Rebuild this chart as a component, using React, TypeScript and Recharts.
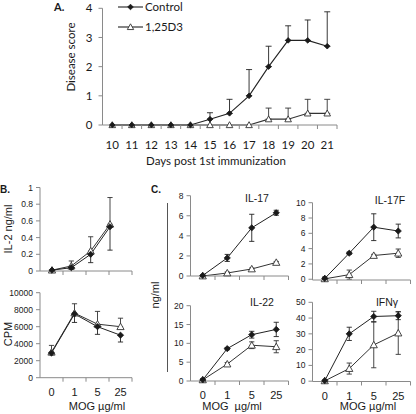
import { LineChart, Line, XAxis, YAxis, ErrorBar, Legend } from 'recharts'

const W = 416
const H = 414
const AXIS = '#8a8a8a'
const INK = '#1a1a1a'
const SANS = 'Arial, "Liberation Sans", sans-serif'
const CAL = 'Lato, "Open Sans", sans-serif'

// panel A: disease score
const days = [10, 11, 12, 13, 14, 15, 16, 17, 18, 19, 20, 21]
const ctrlScore = [0, 0, 0, 0, 0, 0.2, 0.4, 1.0, 2.0, 2.9, 2.9, 2.7]
const ctrlScoreErr = [0, 0, 0, 0, 0, 0.22, 0.48, 0.9, 0.7, 0.5, 0.7, 1.18]
const vdScore = [0, 0, 0, 0, 0, 0, 0, 0, 0.2, 0.2, 0.4, 0.4]
const vdScoreErr = [0, 0, 0, 0, 0, 0, 0, 0, 0.38, 0.38, 0.48, 0.48]
const scoreTicks = [0, 1, 2, 3, 4]

// panels B and C: MOG recall
const mog = ['0', '1', '5', '25']

const il2Ctrl = [0.01, 0.04, 0.2, 0.53]
const il2CtrlErr = [0, 0.02, 0.1, 0.28]
const il2Vd = [0.01, 0.06, 0.24, 0.56]
const il2VdErr = [0, 0.06, 0.17, 0.32]
const il2Ticks = [0, 0.2, 0.4, 0.6, 0.8, 1]

const cpmCtrl = [2900, 7500, 6000, 5000]
const cpmCtrlErr = [200, 1000, 900, 800]
const cpmVd = [3000, 7600, 6300, 6000]
const cpmVdErr = [800, 1100, 1500, 1000]
const cpmTicks = [0, 2000, 4000, 6000, 8000, 10000]

const il17Ctrl = [0.05, 1.8, 4.8, 6.3]
const il17CtrlErr = [0.05, 0.35, 1.35, 0.25]
const il17Vd = [0, 0.3, 0.7, 1.35]
const il17VdErr = [0, 0.1, 0.1, 0.1]
const il17Ticks = [0, 2, 4, 6, 8]

const il17fCtrl = [0.1, 3.4, 6.8, 6.3]
const il17fCtrlErr = [0.2, 0.15, 1.75, 0.9]
const il17fVd = [0.05, 0.6, 3.1, 3.4]
const il17fVdErr = [0.1, 0.6, 0.15, 0.55]
const il17fTicks = [0, 2, 4, 6, 8, 10]

const il22Ctrl = [0.3, 8.6, 12.3, 13.7]
const il22CtrlErr = [0.3, 0.3, 0.9, 1.9]
const il22Vd = [0.3, 4.5, 9.5, 9.1]
const il22VdErr = [0.2, 0.4, 0.9, 1.6]
const il22Ticks = [0, 5, 10, 15, 20]

const ifnCtrl = [0.3, 30, 41, 41.5]
const ifnCtrlErr = [0.5, 4.2, 3.3, 2.5]
const ifnVd = [0.2, 8, 23, 30.5]
const ifnVdErr = [0.3, 3.5, 14.5, 13.5]
const ifnTicks = [0, 10, 20, 30, 40, 50]

const nz = (v: any) => (v ? v : null)

// A: only the upper bar is shown
const scoreRows = days.map((d, i) => ({
  m: d,
  c: ctrlScore[i],
  ce: ctrlScoreErr[i] ? [0, ctrlScoreErr[i]] : null,
  v: vdScore[i],
  ve: vdScoreErr[i] ? [0, vdScoreErr[i]] : null,
}))

// B: control bars go down, 1,25D3 bars go up
const oneSided = (c: number[], ce: number[], v: number[], ve: number[]) =>
  mog.map((m, i) => ({
    m,
    c: c[i],
    ce: ce[i] ? [ce[i], 0] : null,
    v: v[i],
    ve: ve[i] ? [0, ve[i]] : null,
  }))

const twoSided = (c: number[], ce: number[], v: number[], ve: number[]) =>
  mog.map((m, i) => ({ m, c: c[i], ce: nz(ce[i]), v: v[i], ve: nz(ve[i]) }))

function Diamond(p: any) {
  const { cx, cy, index } = p
  if (cx == null || cy == null) return <g key={index} />
  const s = p.size || 3.3
  return (
    <path
      key={index}
      d={`M${cx},${cy - s}L${cx + s},${cy}L${cx},${cy + s}L${cx - s},${cy}Z`}
      fill={INK}
      stroke={INK}
      strokeWidth={0.8}
    />
  )
}

function Tri(p: any) {
  const { cx, cy, index } = p
  if (cx == null || cy == null) return <g key={index} />
  const s = p.size || 3.6
  return (
    <path
      key={index}
      d={`M${cx},${cy - s}L${cx + s},${cy + s * 0.8}L${cx - s},${cy + s * 0.8}Z`}
      fill="#fff"
      stroke="#333"
      strokeWidth={0.9}
    />
  )
}

type PanelProps = {
  rows: any[]
  plot: [number, number, number, number]
  yTicks: number[]
  showX?: boolean
  xPad?: [number, number]
  yFont?: number
  yFamily?: string
  yMargin?: number
  xFont?: number
  xFamily?: string
  xDy?: number
  lineW?: number
  dotSize?: number
  capW?: number
  children?: any
}

function Panel({
  rows,
  plot,
  yTicks,
  showX = true,
  xPad,
  yFont = 8.5,
  yFamily = SANS,
  yMargin = 3,
  xFont = 11,
  xFamily = SANS,
  xDy = 18,
  lineW = 1,
  dotSize = 3.1,
  capW = 2.6,
  children,
}: PanelProps) {
  const [l, t, r, b] = plot
  const yw = 40
  const xh = 30
  const n = rows.length
  const step = (r - l) / n
  const pad = xPad ?? [step / 2, step / 2]
  const XTick = (p: any) => {
    const tx = l + (p.index + 1) * step
    return (
      <g>
        <line x1={tx} x2={tx} y1={b} y2={b + 4} stroke={AXIS} />
        {showX && (
          <text x={p.x} y={b + xDy} textAnchor="middle" fontSize={xFont} fontFamily={xFamily} fill={INK}>
            {p.payload.value}
          </text>
        )}
      </g>
    )
  }
  return (
    <div style={{ position: 'absolute', left: 0, top: 0 }}>
      <LineChart
        width={W}
        height={H}
        data={rows}
        margin={{ top: t, left: l - yw, right: W - r, bottom: H - b - xh }}
      >
        <XAxis
          dataKey="m"
          height={xh}
          interval={0}
          tickLine={false}
          tick={XTick}
          stroke={AXIS}
          padding={{ left: pad[0], right: pad[1] }}
        />
        <YAxis
          width={yw}
          type="number"
          domain={[yTicks[0], yTicks[yTicks.length - 1]]}
          ticks={yTicks}
          interval={0}
          tickSize={4}
          tickMargin={yMargin}
          stroke={AXIS}
          tick={{ fontSize: yFont, fontFamily: yFamily, fill: INK }}
        />
        <Line
          dataKey="v"
          stroke="#333"
          strokeWidth={lineW}
          dot={(p: any) => <Tri {...p} size={dotSize + 0.5} />}
          isAnimationActive={false}
        >
          <ErrorBar dataKey="ve" width={capW} stroke="#333" strokeWidth={0.9} direction="y" />
        </Line>
        <Line
          dataKey="c"
          stroke="#222"
          strokeWidth={lineW}
          dot={(p: any) => <Diamond {...p} size={dotSize} />}
          isAnimationActive={false}
        >
          <ErrorBar dataKey="ce" width={capW} stroke="#222" strokeWidth={0.9} direction="y" />
        </Line>
        {children}
      </LineChart>
    </div>
  )
}

function ScoreLegend() {
  return (
    <svg width={110} height={36}>
      <line x1={1} x2={26} y1={7} y2={7} stroke="#222" strokeWidth={1.1} />
      <Diamond cx={13.5} cy={7} size={2.8} index={0} />
      <text x={28} y={11} fontSize={11.5} fontFamily={CAL} fill={INK}>
        Control
      </text>
      <line x1={1} x2={26} y1={27} y2={27} stroke="#222" strokeWidth={1.1} />
      <Tri cx={13.5} cy={27} size={3.2} index={1} />
      <text x={28} y={31} fontSize={11.5} fontFamily={CAL} fill={INK}>
        1,25D3
      </text>
    </svg>
  )
}

export default function App() {
  const rot = (x: number, y: number) => `rotate(-90 ${x} ${y})`
  return (
    <div style={{ position: 'absolute', left: 0, top: 0, width: W, height: H, background: '#fff', overflow: 'hidden' }}>
      <Panel
        rows={scoreRows}
        plot={[102.5, 8.3, 337, 125]}
        yTicks={scoreTicks}
        yFont={11.5}
        yFamily={CAL}
        yMargin={6}
        xFont={11.5}
        xFamily={CAL}
        xDy={24}
        lineW={1.1}
        dotSize={2.8}
        capW={3}
      >
        <Legend
          layout="vertical"
          align="center"
          verticalAlign="middle"
          wrapperStyle={{ left: 117, top: 0, width: 110, height: 36 }}
          content={() => <ScoreLegend />}
        />
      </Panel>

      <Panel rows={oneSided(il2Ctrl, il2CtrlErr, il2Vd, il2VdErr)} plot={[40, 187.5, 132, 271]} yTicks={il2Ticks} showX={false} xPad={[12, 22]} />
      <Panel rows={oneSided(cpmCtrl, cpmCtrlErr, cpmVd, cpmVdErr)} plot={[40, 292.7, 132, 377.7]} yTicks={cpmTicks} />

      <Panel rows={twoSided(il17Ctrl, il17CtrlErr, il17Vd, il17VdErr)} plot={[190.5, 195.7, 288.5, 276]} yTicks={il17Ticks} showX={false} />
      <Panel rows={twoSided(il17fCtrl, il17fCtrlErr, il17fVd, il17fVdErr)} plot={[312.5, 202.7, 410.5, 280]} yTicks={il17fTicks} showX={false} />
      <Panel rows={twoSided(il22Ctrl, il22CtrlErr, il22Vd, il22VdErr)} plot={[190.5, 305.7, 288.5, 381]} yTicks={il22Ticks} />
      <Panel rows={twoSided(ifnCtrl, ifnCtrlErr, ifnVd, ifnVdErr)} plot={[312.5, 302.3, 410.5, 381.5]} yTicks={ifnTicks} />

      <svg width={W} height={H} style={{ position: 'absolute', left: 0, top: 0, pointerEvents: 'none' }}>
        <text x={54} y={11} fontSize={11} fontWeight="bold" fontFamily={CAL} fill={INK}>A.</text>
        <text x={70} y={57} transform={rot(70, 57)} textAnchor="middle" dominantBaseline="central" fontSize={11.5} fontFamily={CAL} fill={INK}>
          Disease score
        </text>
        <text x={216} y={165} textAnchor="middle" fontSize={11.5} fontFamily={CAL} fill={INK}>
          Days post 1st immunization
        </text>

        <text x={0} y={193} fontSize={10} fontWeight="bold" fontFamily={SANS} fill={INK}>B.</text>
        <text x={8} y={229} transform={rot(8, 229)} textAnchor="middle" dominantBaseline="central" fontSize={11} fontFamily={SANS} fill={INK}>
          IL-2 ng/ml
        </text>
        <text x={8} y={334} transform={rot(8, 334)} textAnchor="middle" dominantBaseline="central" fontSize={11} fontFamily={SANS} fill={INK}>
          CPM
        </text>
        <text x={97} y={410} textAnchor="middle" fontSize={11} fontFamily={SANS} fill={INK}>MOG µg/ml</text>

        <text x={151} y={193} fontSize={10} fontWeight="bold" fontFamily={SANS} fill={INK}>C.</text>
        <text x={155} y={295} transform={rot(155, 295)} textAnchor="middle" dominantBaseline="central" fontSize={11} fontFamily={SANS} fill={INK}>
          ng/ml
        </text>
        <line x1={167.5} x2={167.5} y1={203} y2={372} stroke="#555" strokeWidth={1} />
        <text x={257} y={202} textAnchor="middle" fontSize={10.5} fontFamily={SANS} fill={INK}>IL-17</text>
        <text x={390} y={204} textAnchor="middle" fontSize={10.5} fontFamily={SANS} fill={INK}>IL-17F</text>
        <text x={262} y={306} textAnchor="middle" fontSize={10.5} fontFamily={SANS} fill={INK}>IL-22</text>
        <text x={387} y={306} textAnchor="middle" fontSize={10.5} fontFamily={SANS} fill={INK}>IFNγ</text>
        <text x={232} y={410} textAnchor="middle" fontSize={11} fontFamily={SANS} fill={INK} style={{ whiteSpace: 'pre' }}>
          MOG  µg/ml
        </text>
        <text x={368} y={410} textAnchor="middle" fontSize={11} fontFamily={SANS} fill={INK}>MOG µg/ml</text>
      </svg>
    </div>
  )
}
